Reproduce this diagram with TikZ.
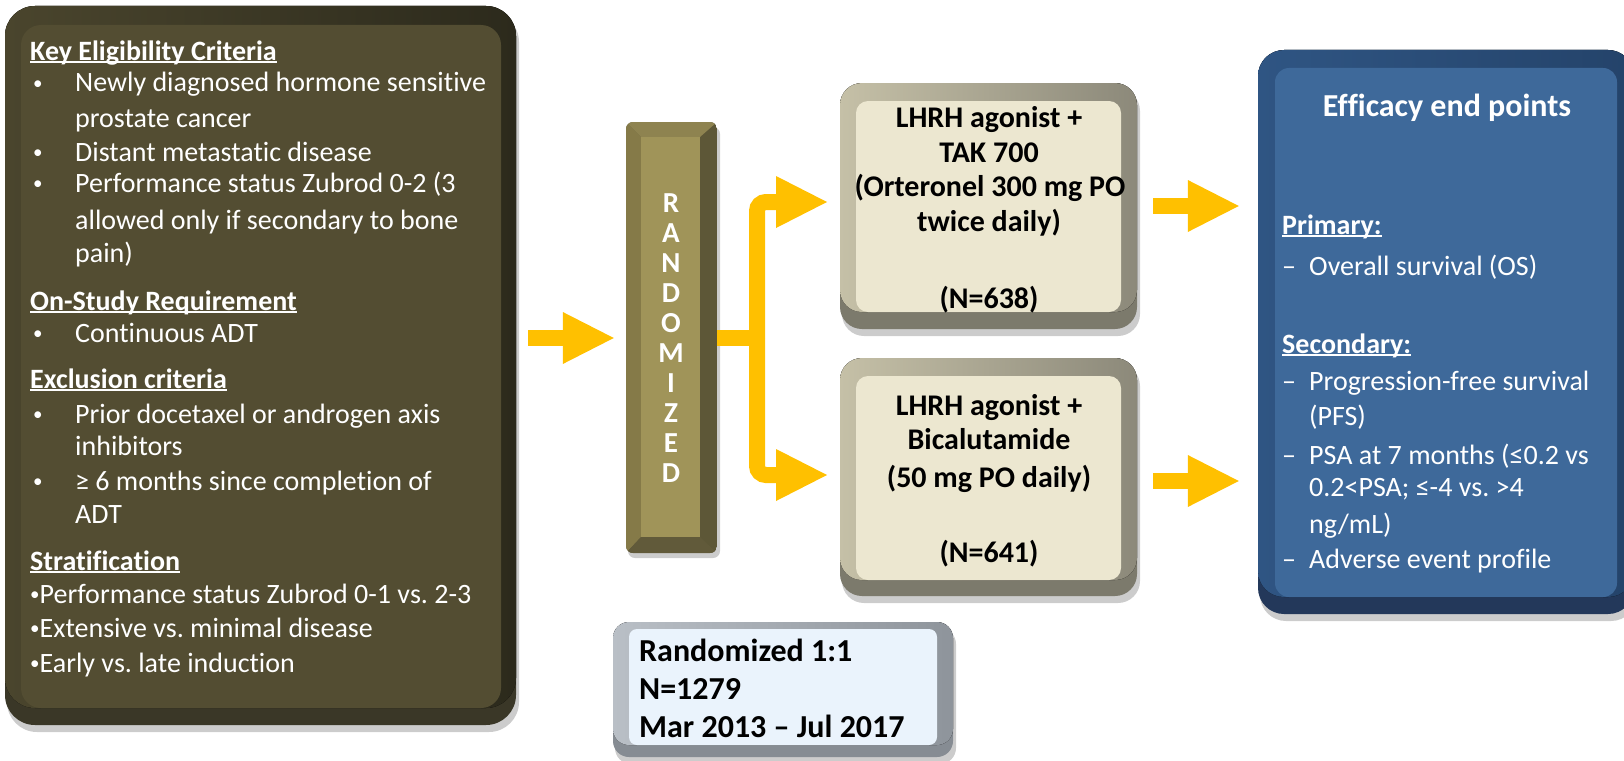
\documentclass[tikz,border=0pt]{standalone}
\usepackage{fontspec}
\setmainfont{Carlito}[Ligatures=NoCommon]
\usetikzlibrary{arrows.meta}
\definecolor{yel}{HTML}{FFC000}
\definecolor{olvFace}{HTML}{534D32}
\definecolor{olvBot}{HTML}{3A3727}
\definecolor{olvLeft}{HTML}{4A452D}
\definecolor{olvMid}{HTML}{514B31}
\definecolor{olvRight}{HTML}{2C2A1C}
\definecolor{barFace}{HTML}{A09459}
\definecolor{barLeft}{HTML}{857A48}
\definecolor{barRight}{HTML}{5D5737}
\definecolor{barTop}{HTML}{8E8350}
\definecolor{barBot}{HTML}{615A3A}
\definecolor{crFace}{HTML}{ECE7D0}
\definecolor{crBot}{HTML}{7C7A6C}
\definecolor{crLeft}{HTML}{C5C0A7}
\definecolor{crMid}{HTML}{F2EFDD}
\definecolor{crRight}{HTML}{8C897A}
\definecolor{blFace}{HTML}{3E699A}
\definecolor{blBot}{HTML}{23385A}
\definecolor{blLeft}{HTML}{2F5583}
\definecolor{blMid}{HTML}{3D68A0}
\definecolor{blRight}{HTML}{24436A}
\definecolor{rbFace}{HTML}{EAF3FC}
\definecolor{rbBot}{HTML}{868C93}
\definecolor{rbLeft}{HTML}{B9BFC6}
\definecolor{rbMid}{HTML}{E6EEF6}
\definecolor{rbRight}{HTML}{8E949B}
\newsavebox\ulbox
\newcommand{\ulin}[1]{\sbox\ulbox{#1}\rlap{\rule[-3pt]{\wd\ulbox}{1.8pt}}\usebox\ulbox}
\newcommand{\smbul}{\raisebox{2.6pt}{\fontsize{19}{19}\selectfont •}}
% #1 prefix, #2 x0, #3 y0, #4 x1, #5 y1, #6 left, #7 top, #8 right, #9 bottom
\newcommand{\softbox}[9]{%
  \fill[black,opacity=.2,rounded corners=\rO] (#2+2,#3+6) rectangle (#4+3,#5+7);
  \fill[#1Bot,rounded corners=\rO] (#2,#3) rectangle (#4,#5);
  \fill[left color=#1Left,middle color=#1Mid,right color=#1Right,rounded corners=\rO] (#2,#3) rectangle (#4,#5-#9);
  \fill[#1Face,rounded corners=\rI] (#2+#6,#3+#7) rectangle (#4-#8,#5-#9);
}
\tikzset{
  yline/.style={line width=16pt, draw=yel},
  ytip/.style={-{Triangle[length=51pt,width=52pt,line width=0pt]}},
  hold/.style={inner sep=0pt, draw=none},
  wl/.style={inner sep=0pt, anchor=base west, text=white, font=\fontsize{28}{34}\selectfont},
  bc/.style={inner sep=0pt, anchor=base, text=black, font=\bfseries\fontsize{30}{36}\selectfont},
  bk/.style={inner sep=0pt, anchor=base west, text=black, font=\bfseries\fontsize{32}{38}\selectfont},
  rl/.style={inner sep=0pt, anchor=base, text=white, font=\bfseries\fontsize{29}{34}\selectfont},
}
\begin{document}
\frenchspacing
\begin{tikzpicture}[x=1pt,y=-1pt]
\useasboundingbox (0,0) rectangle (1624,760);
\fill[white] (0,0) rectangle (1624,760);

% ---------- left eligibility box
\def\rO{30pt}\def\rI{20pt}
\softbox{olv}{5}{6}{516}{725}{16}{19}{15}{17}
\node[hold, minimum width=511pt, minimum height=719pt] (elig) at (260.5,365.5) {};
\node[wl] (h1) at (30,60) {\ulin{\textbf{Key Eligibility Criteria}}};
\node[wl] (b1) at (33,92) {\smbul};
\node[wl] (e1) at (75,92) {Newly diagnosed hormone sensitive};
\node[wl] (e1b) at (75,127) {prostate cancer};
\node[wl] (b2) at (33,161) {\smbul};
\node[wl] (e2) at (75,161) {Distant metastatic disease};
\node[wl] (b3) at (33,192) {\smbul};
\node[wl] (e3) at (75,192) {Performance status Zubrod 0-2 (3};
\node[wl] (e3b) at (75,229) {allowed only if secondary to bone};
\node[wl] (e3c) at (75,262) {pain)};
\node[wl] (h2) at (30,310) {\ulin{\textbf{On-Study Requirement}}};
\node[wl] (b4) at (33,342) {\smbul};
\node[wl] (e4) at (75,342) {Continuous ADT};
\node[wl] (h3) at (30,388) {\ulin{\textbf{Exclusion criteria}}};
\node[wl] (b5) at (33,423) {\smbul};
\node[wl] (e5) at (75,423) {Prior docetaxel or androgen axis};
\node[wl] (e5b) at (75,455) {inhibitors};
\node[wl] (b6) at (33,490) {\smbul};
\node[wl] (e6) at (75,490) {≥ 6 months since completion of};
\node[wl] (e6b) at (75,523) {ADT};
\node[wl] (h4) at (30,570) {\ulin{\textbf{Stratification}}};
\node[wl] (s1) at (30,603) {\smbul Performance status Zubrod 0-1 vs. 2-3};
\node[wl] (s2) at (30,637) {\smbul Extensive vs. minimal disease};
\node[wl] (s3) at (30,672) {\smbul Early vs. late induction};

% ---------- randomized bar
\node[hold, minimum width=91pt, minimum height=431pt] (bar) at (671.5,337.5) {};
\fill[black,opacity=.2,rounded corners=7pt] (628,127) rectangle (720,558);
\begin{scope}
\clip[rounded corners=7pt] (626,122) rectangle (717,553);
\fill[barRight] (626,122) rectangle (717,553);
\fill[barLeft] (626,122) -- (641,137) -- (641,537) -- (626,553) -- cycle;
\fill[barTop] (626,122) -- (717,122) -- (700,137) -- (641,137) -- cycle;
\fill[barBot] (626,553) -- (641,537) -- (700,537) -- (717,553) -- cycle;
\end{scope}
\fill[barFace] (641,137) rectangle (700,537);
\foreach \c [count=\i from 0] in {R,A,N,D,O,M,I,Z,E,D}
  \node[rl] (L\i) at (671,212+30.11*\i) {\c};

% ---------- treatment boxes
\def\rO{22pt}\def\rI{12pt}
\softbox{cr}{840}{83}{1137}{329}{16}{18}{16}{17}
\node[hold, minimum width=297pt, minimum height=246pt] (t1) at (988.5,206) {};
\node[bc] (t1a) at (989,127) {LHRH agonist +};
\node[bc] (t1b) at (989,162) {TAK 700};
\node[bc] (t1c) at (990,196) {(Orteronel 300 mg PO};
\node[bc] (t1d) at (989,231) {twice daily)};
\node[bc] (t1e) at (989,308) {(N=638)};

\softbox{cr}{840}{358}{1137}{596}{16}{18}{16}{16}
\node[hold, minimum width=297pt, minimum height=238pt] (t2) at (988.5,481) {};
\node[bc] (t2a) at (989,415) {LHRH agonist +};
\node[bc] (t2b) at (989,449) {Bicalutamide};
\node[bc] (t2c) at (989,487) {(50 mg PO daily)};
\node[bc] (t2d) at (989,562) {(N=641)};

% ---------- randomization info box
\def\rO{16pt}\def\rI{8pt}
\softbox{rb}{613}{622}{953}{757}{16}{7}{16}{12}
\node[hold, minimum width=340pt, minimum height=135pt] (info) at (783,689.5) {};
\node[bk] (i1) at (639,661) {Randomized 1:1};
\node[bk] (i2) at (639,699) {N=1279};
\node[bk] (i3) at (639,737) {Mar 2013 – Jul 2017};

% ---------- efficacy box
\def\rO{26pt}\def\rI{14pt}
\softbox{bl}{1258}{50}{1634}{614}{17}{18}{17}{17}
\node[hold, minimum width=376pt, minimum height=564pt] (eff) at (1446,332) {};
\node[inner sep=0pt, anchor=base, text=white, font=\bfseries\fontsize{32}{38}\selectfont] (ef0) at (1447,116) {Efficacy end points};
\node[wl] (p0) at (1282,234) {\ulin{\textbf{Primary:}}};
\node[wl] (d1) at (1282,275) {–};
\node[wl] (p1) at (1309,275) {Overall survival (OS)};
\node[wl] (q0) at (1282,353) {\ulin{\textbf{Secondary:}}};
\node[wl] (d2) at (1282,390) {–};
\node[wl] (q1) at (1309,390) {Progression-free survival};
\node[wl] (q1b) at (1309,425) {(PFS)};
\node[wl] (d3) at (1282,464) {–};
\node[wl] (q2) at (1309,464) {PSA at 7 months (≤0.2 vs};
\node[wl] (q2b) at (1309,496) {0.2<PSA; ≤-4 vs. >4};
\node[wl] (q2c) at (1309,533) {ng/mL)};
\node[wl] (d4) at (1282,568) {–};
\node[wl] (q3) at (1309,568) {Adverse event profile};

% ---------- connectors
\coordinate (inS) at (528,338);
\coordinate (jn) at (757,338);
\coordinate (a1) at (827,202);
\coordinate (a2) at (827,475);
\draw[yline, ytip, shorten >=12pt] (inS) -- (inS -| bar.west);
\draw[yline] (bar.east |- jn) -- (jn);
\draw[yline, ytip, rounded corners=9pt] (jn) |- (a1);
\draw[yline, ytip, rounded corners=9pt] (jn) |- (a2);
\draw[yline, ytip, shorten <=16pt, shorten >=19pt] (t1.east) -- (t1.east -| eff.west);
\draw[yline, ytip, shorten <=16pt, shorten >=19pt] (t2.east) -- (t2.east -| eff.west);
\end{tikzpicture}
\end{document}
